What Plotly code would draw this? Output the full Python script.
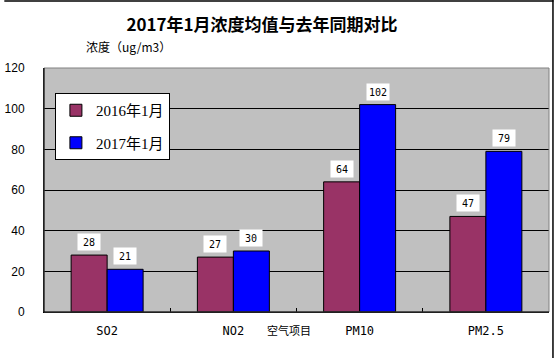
import plotly.graph_objects as go

categories = ["SO2", "NO2", "PM10", "PM2.5"]
series_names = ["2016年1月", "2017年1月"]
values_2016 = [28, 27, 64, 47]
values_2017 = [21, 30, 102, 79]
y_ticks = [0, 20, 40, 60, 80, 100, 120]

colors = ["#993366", "#0000FF"]
CJK = "Noto Sans CJK SC"
SERIF = "Liberation Serif, Noto Sans CJK SC"

W, H = 554, 358
ML, MR, MT, MB = 40, 5, 68, 46
pw, ph = W - ML - MR, H - MT - MB


def px(x):
    return (x - ML) / pw


def py(y):
    return 1 - (y - MT) / ph


fig = go.Figure()
for i, (name, vals) in enumerate(zip(series_names, [values_2016, values_2017])):
    fig.add_trace(go.Bar(
        x=categories, y=vals, name=name,
        marker=dict(color=colors[i], line=dict(color="black", width=1)),
        legendgroup=name,
    ))
    for c, v in zip(categories, vals):
        fig.add_annotation(
            x=c, y=v, xref="x", yref="y", text=str(v), showarrow=False,
            xshift=(-18 if i == 0 else 18), yshift=13, yanchor="middle",
            bgcolor="white", font=dict(family="DejaVu Sans Mono", size=10, color="black"),
            width=20, height=14,
        )

fig.update_layout(
    width=W, height=H,
    margin=dict(l=ML, r=MR, t=MT, b=MB),
    paper_bgcolor="white", plot_bgcolor="#C0C0C0",
    barmode="group", bargap=0.43, bargroupgap=0,
    showlegend=True,
    legend=dict(
        x=px(51), y=py(93), xanchor="left", yanchor="top",
        bgcolor="white", bordercolor="black", borderwidth=1,
        font=dict(family=SERIF, size=15, color="black"),
        traceorder="grouped", tracegroupgap=10,
        itemwidth=30,
    ),
    title=dict(
        text="<b>2017年1月浓度均值与去年同期对比</b>",
        x=262 / W, xanchor="center", y=1 - 25 / H, yanchor="middle",
        font=dict(family=CJK, size=17, color="black"),
    ),
    xaxis=dict(
        type="category", showgrid=False, showline=True, linecolor="black", linewidth=1,
        ticks="inside", tickson="boundaries", ticklen=4, tickcolor="black",
        tickfont=dict(family="DejaVu Sans Mono, Noto Sans CJK SC", size=12, color="black"),
        ticklabelstandoff=8,
    ),
    yaxis=dict(
        range=[0, 120], tickvals=y_ticks, showgrid=True, gridcolor="black", gridwidth=1,
        showline=True, linecolor="black", linewidth=1, zeroline=False,
        ticks="", tickfont=dict(family="Liberation Sans", size=12, color="black"),
        ticklabelstandoff=16,
    ),
    shapes=[
        dict(type="rect", xref="paper", yref="paper", x0=0, x1=1, y0=0, y1=1,
             line=dict(color="#808080", width=1), layer="above"),
        dict(type="line", xref="paper", yref="paper", x0=0, x1=0, y0=0, y1=1,
             line=dict(color="black", width=1), layer="above"),
        dict(type="line", xref="paper", yref="paper", x0=0, x1=1, y0=0, y1=0,
             line=dict(color="black", width=1), layer="above"),
        # page border (top and right)
        dict(type="line", xref="paper", yref="paper", x0=px(0), x1=px(553.5),
             y0=py(1), y1=py(1), line=dict(color="black", width=1.5)),
        dict(type="line", xref="paper", yref="paper", x0=px(553), x1=px(553),
             y0=py(0), y1=py(H), line=dict(color="black", width=1.5)),
    ],
)

fig.add_annotation(
    x=px(80), y=py(47), xref="paper", yref="paper", text="浓度（ug/m3）", showarrow=False,
    xanchor="left", yanchor="middle",
    font=dict(family=CJK, size=12, color="black"),
)
fig.add_annotation(
    x=px(263), y=py(330), xref="paper", yref="paper", text="空气项目", showarrow=False,
    xanchor="left", yanchor="middle",
    font=dict(family=CJK, size=11, color="black"),
)

fig.write_html(
    "out.html",
    config={"displayModeBar": False},
    post_script="document.body.style.margin='0';document.body.style.padding='0';",
)
